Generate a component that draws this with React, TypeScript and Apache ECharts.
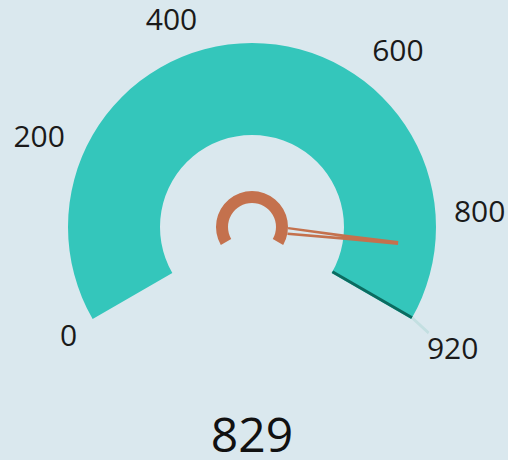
import React, { useEffect, useRef } from "react";
import * as echarts from "echarts";

const minValue = 0;
const maxValue = 920;
const gaugeValue = [829];
const tickLabels = [0, 200, 400, 600, 800, 920];
const labelStep = 20;

const teal = "#34c6bb";
const orange = "#c4714d";

export default function App() {
  const ref = useRef<HTMLDivElement>(null);
  useEffect(() => {
    if (!ref.current) return;
    const chart = echarts.init(ref.current, null, { renderer: "svg" });
    const center = [252, 227];
    const startAngle = 210;
    const sweep = 240;
    const common = {
      type: "gauge",
      center,
      startAngle,
      endAngle: startAngle - sweep,
      min: minValue,
      max: maxValue,
      splitNumber: (maxValue - minValue) / labelStep,
      progress: { show: false },
      splitLine: { show: false, length: 0, distance: 0 },
      axisTick: { show: false },
      axisLabel: { show: false },
      anchor: { show: false },
      title: { show: false },
    };
    const labelFont = { color: "#1a1a1a", fontSize: 30, fontFamily: "Open Sans" };
    chart.setOption({
      animation: false,
      backgroundColor: "#dae8ee",
      polar: { center, radius: [0, 186] },
      angleAxis: {
        type: "value",
        startAngle,
        clockwise: true,
        min: minValue,
        max: minValue + ((maxValue - minValue) * 360) / sweep,
        interval: labelStep,
        axisLine: { show: false },
        axisTick: { show: false },
        splitLine: { show: false },
        axisLabel: {
          show: true,
          margin: 16,
          formatter: (v: number) => {
            const n = Math.round(v);
            return tickLabels.includes(n) && n <= maxValue ? `{t${n}|${n}}` : "";
          },
          ...labelFont,
          rich: {
            t0: { ...labelFont, lineHeight: 12 },
            t200: { ...labelFont },
            t400: { ...labelFont, lineHeight: 28, padding: [0, 52, 0, 0] },
            t600: { ...labelFont },
            t800: { ...labelFont, padding: [0, 0, 24, 0] },
            t920: { ...labelFont, padding: [4, 0, 0, 0] },
          },
        },
      },
      radiusAxis: { show: false, min: 0, max: 1 },
      series: [
        {
          ...common,
          radius: 184,
          axisLine: { show: true, lineStyle: { width: 92, color: [[1, teal]] } },
          pointer: {
            show: true,
            icon: "path://M2,0 L6,0 L6.6,50 L8,111 L5.6,111 L4,56 L2.4,111 L0,111 L1.4,50 Z",
            length: 111,
            width: 8,
            offsetCenter: [0, -36],
            itemStyle: { color: orange },
          },
          detail: {
            show: true,
            offsetCenter: [0, 206],
            fontSize: 48,
            lineHeight: 44,
            fontWeight: "normal",
            color: "#111",
            fontFamily: "Open Sans",
            formatter: "{value}",
          },
          data: gaugeValue.map((v) => ({ value: v })),
        },
        {
          ...common,
          radius: 36,
          axisLine: { show: true, lineStyle: { width: 12, color: [[1, orange]] } },
          pointer: { show: false },
          detail: { show: false },
          data: [{ value: minValue }],
        },
        {
          ...common,
          radius: 184,
          axisLine: { show: false },
          pointer: {
            show: true,
            icon: "rect",
            length: 92,
            width: 3,
            offsetCenter: [-1.5, -92],
            itemStyle: { color: "#0b6b60" },
          },
          detail: { show: false },
          data: [{ value: maxValue }],
        },
        {
          ...common,
          radius: 184,
          axisLine: { show: false },
          pointer: {
            show: true,
            icon: "path://M5,0 L8,0 L3,22 L0,22 Z",
            length: 22,
            width: 8,
            offsetCenter: [1, -184],
            itemStyle: { color: "#c3dfe1" },
          },
          detail: { show: false },
          data: [{ value: maxValue }],
        },
      ],
    });
    return () => chart.dispose();
  }, []);
  return (
    <div
      ref={ref}
      style={{ position: "fixed", left: 0, top: 0, width: 508, height: 460 }}
    />
  );
}
